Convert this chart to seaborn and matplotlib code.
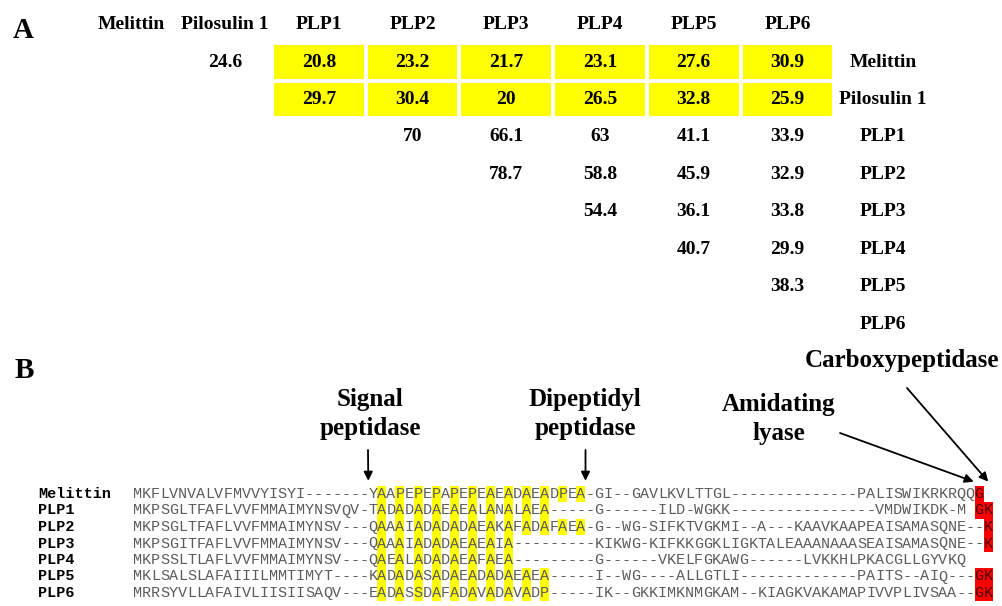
import numpy as np
import pandas as pd
import matplotlib
matplotlib.use("Agg")
import matplotlib.pyplot as plt
from matplotlib.colors import ListedColormap
import seaborn as sns

W, H = 1003, 606

# ---------------- Panel A: pairwise identity (%) ----------------
peptides = ["Melittin", "Pilosulin 1", "PLP1", "PLP2", "PLP3", "PLP4", "PLP5", "PLP6"]
identity_melittin = [np.nan, 24.6, 20.8, 23.2, 21.7, 23.1, 27.6, 30.9]
identity_pilosulin1 = [np.nan, np.nan, 29.7, 30.4, 20, 26.5, 32.8, 25.9]
identity_plp1 = [np.nan, np.nan, np.nan, 70, 66.1, 63, 41.1, 33.9]
identity_plp2 = [np.nan, np.nan, np.nan, np.nan, 78.7, 58.8, 45.9, 32.9]
identity_plp3 = [np.nan, np.nan, np.nan, np.nan, np.nan, 54.4, 36.1, 33.8]
identity_plp4 = [np.nan, np.nan, np.nan, np.nan, np.nan, np.nan, 40.7, 29.9]
identity_plp5 = [np.nan, np.nan, np.nan, np.nan, np.nan, np.nan, np.nan, 38.3]
identity_plp6 = [np.nan] * 8

venom_refs = ["Melittin", "Pilosulin 1"]
precursors = ["PLP1", "PLP2", "PLP3", "PLP4", "PLP5", "PLP6"]

# ---------------- Panel B: precursor alignment ----------------
aln_names = ["Melittin", "PLP1", "PLP2", "PLP3", "PLP4", "PLP5", "PLP6"]
aln_seqs = [
    "MKFLVNVALVFMVVYISYI" "-------" "YAAPEPEPAPEPEAEADAEADPEA" "-"
    "GI--GAVLKVLTTGL" "--------------" "PALISWIKRKRQQG",
    "MKPSGLTFAFLVVFMMAIMYNSVQV" "-" "TADADADAEAEALANALAEA" "-----"
    "G------ILD-WGKK" "----------------" "VMDWIKDK-M" " " "GK",
    "MKPSGLTFAFLVVFMMAIMYNSV" "---" "QAAAIADADADAEAKAFADAFAEA" "-"
    "G--WG-SIFKTVGKMI--A---KAAVKAAPEAISAMASQNE--K",
    "MKPSGITFAFLVVFMMAIMYNSV" "---" "QAAAIADADAEAEAIA" "---------"
    "KIKWG-KIFKKGGKLIGKTALEAAANAAASEAISAMASQNE--K",
    "MKPSSLTLAFLVVFMMAIMYNSV" "---" "QAEALADADAEAFAEA" "---------"
    "G------VKELFGKAWG------LVKKHLPKACGLLGYVKQ",
    "MKLSALSLAFAIIILMMTIMYT" "----" "KADADASADAEADADAEAEA" "-----"
    "I--WG----ALLGTLI" "-------------" "PAITS--AIQ---GK",
    "MRRSYVLLAFAIVLIISIISAQV" "---" "EADASSDAFADAVADAVADP" "-----"
    "IK--GKKIMKNMGKAM--KIAGKVAKAMAPIVVPLIVSAA--GK",
]
# spacer-repeat residues (every second position) and C-terminal processing residues
yellow_start = [27, 27, 27, 27, 27, 27, 27]
yellow_end = [49, 45, 49, 41, 41, 45, 45]
red_cols = [[93], [93, 94], [94], [94], [], [93, 94], [93, 94]]

# cleavage annotations: label, label centre (px), arrow start (px), arrow tip (alignment column, row)
cleavages = [
    ("Signal\npeptidase", (370, 414), (368, 450), (26.0, -0.3)),
    ("Dipeptidyl\npeptidase", (585, 414), (585.5, 450), (50.0, -0.3)),
    ("Amidating\nlyase", (779, 419), (840, 433), (92.9, -0.25)),
    ("Carboxypeptidase", (902, 361), (907, 388), (94.5, -0.25)),
]

serif = "Liberation Serif"
mono = "Liberation Mono"

fig = plt.figure(figsize=(W / 100, H / 100), dpi=100)
fig.patch.set_facecolor("white")


def px_rect(left, top, width, height):
    return [left / W, 1 - (top + height) / H, width / W, height / H]


# ---- table ----
identity = pd.DataFrame(
    [identity_melittin, identity_pilosulin1, identity_plp1, identity_plp2,
     identity_plp3, identity_plp4, identity_plp5, identity_plp6],
    index=peptides, columns=peptides,
)
labels = identity.map(lambda v: "" if np.isnan(v) else f"{v:g}")
highlight = pd.DataFrame(False, index=peptides, columns=peptides)
highlight.loc[venom_refs, precursors] = True
empty = identity.isna()

ax_a = fig.add_axes(px_rect(84.65, 43.3, 749.6, 37.45 * len(peptides)))
text_kw = dict(family=serif, weight="bold", size=14, color="black")
sns.heatmap(identity, mask=(~highlight) | empty, cmap=ListedColormap(["#FFFF00"]),
            annot=labels.values, fmt="", annot_kws=text_kw, cbar=False,
            linewidths=1.5, linecolor="white", ax=ax_a)
sns.heatmap(identity, mask=highlight | empty, cmap=ListedColormap(["white"]),
            annot=labels.values, fmt="", annot_kws=text_kw, cbar=False, ax=ax_a)
ax_a.xaxis.tick_top()
ax_a.yaxis.tick_right()
ax_a.set_xticks(np.arange(len(peptides)) + 0.5)
ax_a.set_xticklabels(peptides, rotation=0, **text_kw)
ax_a.set_yticks(np.arange(len(peptides)) + 0.5)
ax_a.set_yticklabels(peptides, rotation=0, ha="center", va="center", **text_kw)
ax_a.tick_params(axis="x", length=0, pad=7.2)
ax_a.tick_params(axis="y", length=0, pad=35.1)
ax_a.set_xlabel("")
ax_a.set_ylabel("")

# ---- alignment ----
n_cols = max(len(s) for s in aln_seqs)
residues = np.array([list(s.ljust(n_cols)) for s in aln_seqs])
marks = np.zeros(residues.shape)
for i, (a, b) in enumerate(zip(yellow_start, yellow_end)):
    marks[i, a:b + 1:2] = 1
for i, cols in enumerate(red_cols):
    marks[i, cols] = 2

ax_b = fig.add_axes(px_rect(133, 485.75, 9.05 * n_cols, 16.5 * len(aln_names)))
sns.heatmap(pd.DataFrame(marks, index=aln_names), ax=ax_b,
            cmap=ListedColormap(["white", "#FFFF00", "#FF0000"]), vmin=-0.5, vmax=2.5,
            cbar=False, annot=residues, fmt="",
            annot_kws=dict(family=mono, size=10.86, color="#5c5c5c"),
            xticklabels=False, yticklabels=aln_names)
# darker residues on the red processing sites
for txt, m in zip(ax_b.texts, marks.flat):
    if m == 2:
        txt.set_color("#4a0000")
ax_b.set_yticklabels(aln_names, rotation=0, ha="left", family=mono, weight="bold",
                     size=10.86, color="black")
ax_b.tick_params(axis="y", length=0, pad=68.4)
ax_b.tick_params(axis="x", length=0)
ax_b.set_xlabel("")
ax_b.set_ylabel("")

for label, (tx, ty), (sx, sy), tip in cleavages:
    fig.text(tx / W, 1 - ty / H, label, ha="center", va="center", family=serif,
             weight="bold", size=18, linespacing=1.3)
    ax_b.annotate("", xy=tip, xycoords="data", xytext=(sx, H - sy),
                  textcoords="figure pixels", annotation_clip=False,
                  arrowprops=dict(arrowstyle="-|>", color="black", lw=1.3,
                                  mutation_scale=13, shrinkA=0, shrinkB=0))

# panel letters
fig.text(23 / W, 1 - 31 / H, "A", ha="center", va="center", family=serif,
         weight="bold", size=21)
fig.text(24 / W, 1 - 370 / H, "B", ha="center", va="center", family=serif,
         weight="bold", size=21)

fig.savefig("out.png", dpi=100, facecolor="white")
